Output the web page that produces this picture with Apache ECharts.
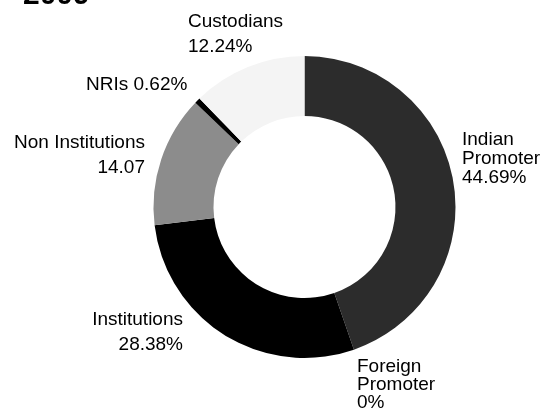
<!DOCTYPE html>
<html>
<head>
<meta charset="utf-8">
<script src="https://cdn.jsdelivr.net/npm/echarts@6/dist/echarts.min.js"></script>
<style>
  html, body { margin: 0; padding: 0; background: #ffffff; }
  #chart { width: 543px; height: 408px; }
</style>
</head>
<body>
<div id="chart"></div>
<script>
// Shareholding pattern, 2009 (percent of equity)
const categories = ['Indian\nPromoter', 'Foreign\nPromoter', 'Institutions', 'Non Institutions', 'NRIs', 'Custodians'];
const shares = [44.69, 0, 28.38, 14.07, 0.62, 12.24];
const valueText = ['44.69%', '0%', '28.38%', '14.07', '0.62%', '12.24%'];
const sliceColors = ['#2c2c2c', '#2c2c2c', '#000000', '#8c8c8c', '#000000', '#f4f4f4'];

// Label anchor, alignment and line spacing for each slice
const labelPlacement = [
  { x: 462, y: 159, align: 'left',  lh: 19, sep: '\n' },
  { x: 357, y: 385, align: 'left',  lh: 18, sep: '\n' },
  { x: 183, y: 332, align: 'right', lh: 25, sep: '\n' },
  { x: 145, y: 155, align: 'right', lh: 25, sep: '\n' },
  { x: 86,  y: 85,  align: 'left',  lh: 19, sep: ' ' },
  { x: 188, y: 34,  align: 'left',  lh: 25, sep: '\n' }
];

const pieData = categories.map((name, i) => ({
  name: name,
  value: shares[i],
  itemStyle: { color: sliceColors[i] },
  label: {
    formatter: name + labelPlacement[i].sep + valueText[i],
    align: labelPlacement[i].align,
    lineHeight: labelPlacement[i].lh
  }
}));

const chart = echarts.init(document.getElementById('chart'), null, { renderer: 'canvas' });
chart.setOption({
  backgroundColor: '#ffffff',
  animation: false,
  graphic: [{
    type: 'text',
    left: 23,
    top: -19,
    style: {
      text: '2009',
      font: 'bold 30px "Liberation Sans", Arial, sans-serif',
      fill: '#000000'
    }
  }],
  series: [{
    type: 'pie',
    center: [304.5, 207],
    radius: [91, 151],
    startAngle: 90,
    clockwise: true,
    avoidLabelOverlap: false,
    minShowLabelAngle: -1,
    itemStyle: { borderWidth: 0 },
    emphasis: { disabled: true },
    label: {
      show: true,
      position: 'outside',
      color: '#000000',
      fontFamily: '"Liberation Sans", Arial, sans-serif',
      fontSize: 19
    },
    labelLine: { show: false },
    labelLayout: function (params) {
      const p = labelPlacement[params.dataIndex];
      return { x: p.x, y: p.y, align: p.align, verticalAlign: 'middle', hideOverlap: false };
    },
    data: pieData
  }]
});
</script>
</body>
</html>
